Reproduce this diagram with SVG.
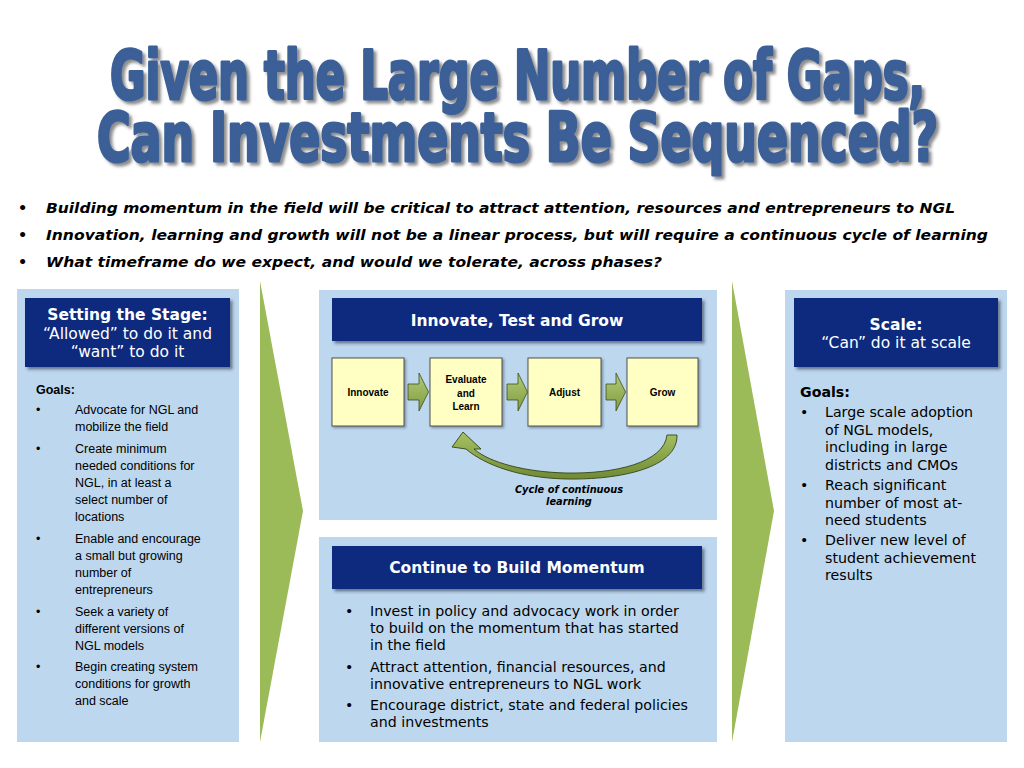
<svg xmlns="http://www.w3.org/2000/svg" width="1024" height="768" viewBox="0 0 1024 768">
  <defs>
    <filter id="tshadow" x="-5%" y="-20%" width="110%" height="150%">
      <feDropShadow dx="3" dy="3" stdDeviation="1.6" flood-color="#404040" flood-opacity="0.6"/>
    </filter>
    <filter id="hshadow" x="-5%" y="-10%" width="115%" height="130%">
      <feDropShadow dx="2.5" dy="2.5" stdDeviation="1.5" flood-color="#1a2a40" flood-opacity="0.55"/>
    </filter>
    <filter id="bshadow" x="-10%" y="-10%" width="125%" height="125%">
      <feDropShadow dx="1.5" dy="1.5" stdDeviation="1" flood-color="#203040" flood-opacity="0.45"/>
    </filter>
    <linearGradient id="garrow" x1="0" y1="0" x2="0" y2="1">
      <stop offset="0" stop-color="#b3cc78"/>
      <stop offset="1" stop-color="#7e9b3e"/>
    </linearGradient>
    <linearGradient id="gcurve" x1="0" y1="0" x2="0" y2="1">
      <stop offset="0" stop-color="#a6c263"/>
      <stop offset="1" stop-color="#6f8a33"/>
    </linearGradient>
  </defs>
  <style>
    .panel { fill: #bdd7ee; }
    .hdr { fill: #0f2a7e; filter: url(#hshadow); }
    .chev { fill: #9bbb59; }
    .box { fill: #ffffc4; stroke: #505050; stroke-width: 1; filter: url(#bshadow); }
    .sarrow { fill: url(#garrow); stroke: #3c4d1c; stroke-width: 0.8; }
    .title { font-family: "Liberation Sans Narrow", "DejaVu Sans Condensed", "Liberation Sans", sans-serif; font-weight: bold; font-size: 68px; fill: #3a5f96; stroke: #3a5f96; stroke-width: 3; stroke-linejoin: round; text-anchor: middle; filter: url(#tshadow); }
    .tb { font-family: "DejaVu Sans", Verdana, sans-serif; font-weight: bold; font-style: italic; font-size: 14.5px; fill: #000; }
    .hw { font-family: "DejaVu Sans", Verdana, sans-serif; font-size: 15.5px; fill: #fff; text-anchor: middle; }
    .hwb { font-weight: bold; }
    .lt { font-family: "Liberation Sans", Arial, sans-serif; font-size: 12.5px; fill: #000; }
    .vt { font-family: "DejaVu Sans", Verdana, sans-serif; font-size: 14.2px; fill: #000; }
    .bl { font-family: "Liberation Sans", Arial, sans-serif; font-weight: bold; font-size: 10px; fill: #000; text-anchor: middle; }
    .cap { font-family: "DejaVu Sans", Verdana, sans-serif; font-weight: bold; font-style: italic; font-size: 9.8px; fill: #000; text-anchor: middle; }
  </style>

  <rect x="0" y="0" width="1024" height="768" fill="#ffffff"/>

  <!-- Title -->
  <g id="title">
    <text class="title" x="517.5" y="99" textLength="815" lengthAdjust="spacingAndGlyphs">Given the Large Number of Gaps,</text>
    <text class="title" x="517.5" y="161" textLength="841" lengthAdjust="spacingAndGlyphs">Can Investments Be Sequenced?</text>
  </g>

  <!-- Top bullets -->
  <g id="intro-bullets">
    <text class="tb" x="18" y="212.5">•</text>
    <text class="tb" x="46" y="212.5" textLength="909" lengthAdjust="spacingAndGlyphs">Building momentum in the field will be critical to attract attention, resources and entrepreneurs to NGL</text>
    <text class="tb" x="18" y="240">•</text>
    <text class="tb" x="46" y="240" textLength="942" lengthAdjust="spacingAndGlyphs">Innovation, learning and growth will not be a linear process, but will require a continuous cycle of learning</text>
    <text class="tb" x="18" y="266.5">•</text>
    <text class="tb" x="46" y="266.5" textLength="616" lengthAdjust="spacingAndGlyphs">What timeframe do we expect, and would we tolerate, across phases?</text>
  </g>

  <!-- Phase chevrons -->
  <g id="chevron-1">
    <polygon class="chev" points="260,281 303,511 260,742"/>
  </g>
  <g id="chevron-2">
    <polygon class="chev" points="732,281 774,511 732,742"/>
  </g>

  <!-- Left panel -->
  <g id="setting-the-stage">
    <rect class="panel" x="17" y="289" width="222" height="453"/>
    <rect class="hdr" x="25" y="298" width="205" height="69"/>
    <text class="hw hwb" x="127.5" y="320">Setting the Stage:</text>
    <text class="hw" x="127.5" y="338.5">“Allowed” to do it and</text>
    <text class="hw" x="127.5" y="356.5">“want” to do it</text>
    <text class="lt" x="36" y="394" font-weight="bold">Goals:</text>
    <g class="lt">
      <text x="36" y="414">•</text>
      <text x="75" y="414">Advocate for NGL and</text>
      <text x="75" y="431">mobilize the field</text>
      <text x="36" y="453">•</text>
      <text x="75" y="453">Create minimum</text>
      <text x="75" y="470">needed conditions for</text>
      <text x="75" y="487">NGL, in at least a</text>
      <text x="75" y="504">select number of</text>
      <text x="75" y="521">locations</text>
      <text x="36" y="543">•</text>
      <text x="75" y="543">Enable and encourage</text>
      <text x="75" y="560">a small but growing</text>
      <text x="75" y="577">number of</text>
      <text x="75" y="594">entrepreneurs</text>
      <text x="36" y="616">•</text>
      <text x="75" y="616">Seek a variety of</text>
      <text x="75" y="633">different versions of</text>
      <text x="75" y="650">NGL models</text>
      <text x="36" y="671">•</text>
      <text x="75" y="671">Begin creating system</text>
      <text x="75" y="688">conditions for growth</text>
      <text x="75" y="705">and scale</text>
    </g>
  </g>

  <!-- Middle top panel -->
  <g id="innovate-test-grow">
    <rect class="panel" x="319" y="290" width="398" height="230"/>
    <rect class="hdr" x="332" y="298" width="370" height="43"/>
    <text class="hw hwb" x="517" y="326">Innovate, Test and Grow</text>
  </g>

  <g id="box-innovate">
    <rect class="box" x="332" y="358" width="72" height="68"/>
    <text class="bl" x="368" y="395.5">Innovate</text>
  </g>
  <g id="box-evaluate">
    <rect class="box" x="430" y="358" width="72" height="68"/>
    <text class="bl" x="466" y="382.5">Evaluate</text>
    <text class="bl" x="466" y="396.5">and</text>
    <text class="bl" x="466" y="410">Learn</text>
  </g>
  <g id="box-adjust">
    <rect class="box" x="528" y="358" width="73" height="68"/>
    <text class="bl" x="564.5" y="395.5">Adjust</text>
  </g>
  <g id="box-grow">
    <rect class="box" x="627" y="358" width="71" height="68"/>
    <text class="bl" x="662.5" y="395.5">Grow</text>
  </g>

  <!-- Connectors -->
  <g id="connectors">
    <polygon class="sarrow" points="408,384 419,384 419,373 428.5,392 419,411 419,400 408,400"/>
    <polygon class="sarrow" points="507,384 518,384 518,373 527.5,392 518,411 518,400 507,400"/>
    <polygon class="sarrow" points="606,384 616,384 616,373 625.5,392 616,411 616,400 606,400"/>
    <path fill="url(#gcurve)" stroke="#34431a" stroke-width="0.9" stroke-linejoin="round"
      d="M 677,435 C 678,468 620,480 566,479 C 522,478 486,466 466,449 L 452,447 L 463,432 L 481,449 L 474,449 C 490,463 526,472 566,473 C 614,474 664,463 667,435 Z"/>
    <text class="cap" x="569" y="492.5">Cycle of continuous</text>
    <text class="cap" x="569" y="504.5">learning</text>
  </g>

  <!-- Middle bottom panel -->
  <g id="continue-momentum">
    <rect class="panel" x="319" y="537" width="398" height="205"/>
    <rect class="hdr" x="332" y="546" width="370" height="43"/>
    <text class="hw hwb" x="517" y="573">Continue to Build Momentum</text>
    <g class="vt">
      <text x="345" y="616">•</text>
      <text x="370" y="616">Invest in policy and advocacy work in order</text>
      <text x="370" y="633">to build on the momentum that has started</text>
      <text x="370" y="650">in the field</text>
      <text x="345" y="672">•</text>
      <text x="370" y="672">Attract attention, financial resources, and</text>
      <text x="370" y="689">innovative entrepreneurs to NGL work</text>
      <text x="345" y="710">•</text>
      <text x="370" y="710">Encourage district, state and federal policies</text>
      <text x="370" y="727">and investments</text>
    </g>
  </g>

  <!-- Right panel -->
  <g id="scale">
    <rect class="panel" x="785" y="290" width="222" height="452"/>
    <rect class="hdr" x="794" y="298" width="204" height="69"/>
    <text class="hw hwb" x="896" y="330">Scale:</text>
    <text class="hw" x="896" y="348">“Can” do it at scale</text>
    <text class="vt" x="800" y="397" font-weight="bold">Goals:</text>
    <g class="vt">
      <text x="800" y="417">•</text>
      <text x="825" y="417">Large scale adoption</text>
      <text x="825" y="434.5">of NGL models,</text>
      <text x="825" y="452">including in large</text>
      <text x="825" y="469.5">districts and CMOs</text>
      <text x="800" y="490">•</text>
      <text x="825" y="490">Reach significant</text>
      <text x="825" y="507.5">number of most at-</text>
      <text x="825" y="525">need students</text>
      <text x="800" y="545">•</text>
      <text x="825" y="545">Deliver new level of</text>
      <text x="825" y="562.5">student achievement</text>
      <text x="825" y="580">results</text>
    </g>
  </g>
</svg>
